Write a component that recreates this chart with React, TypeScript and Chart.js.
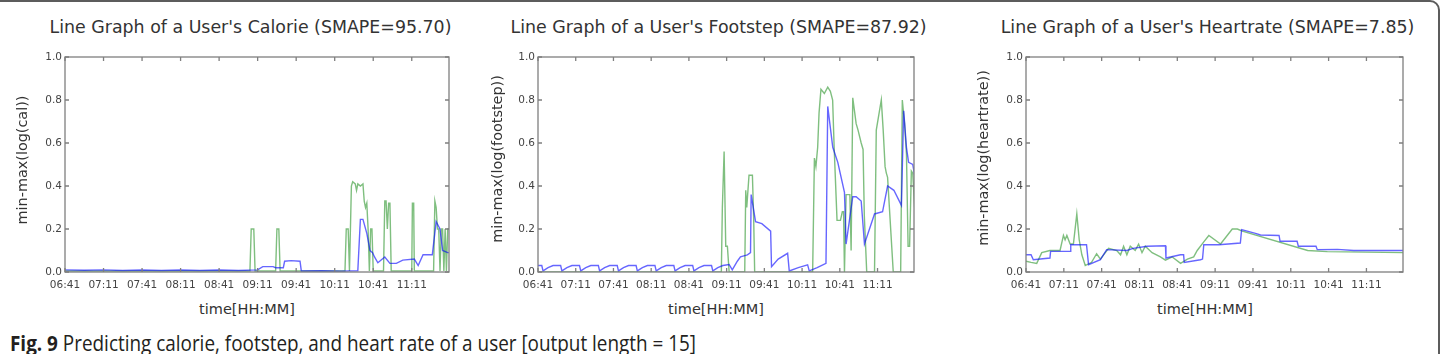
import React, { useEffect, useRef } from "react";
import { Chart, registerables } from "chart.js";

Chart.register(...registerables);

// ---------------- data ----------------
const timeLabels = ["06:41", "07:11", "07:41", "08:11", "08:41", "09:11", "09:41", "10:11", "10:41", "11:11"];
const yTickDecimals = 1;
const minutesPerTick = 30;
const lastMinute = 299;

const titles = [
  "Line Graph of a User's Calorie (SMAPE=95.70)",
  "Line Graph of a User's Footstep (SMAPE=87.92)",
  "Line Graph of a User's Heartrate (SMAPE=7.85)",
];
const yLabels = ["min-max(log(cal))", "min-max(log(footstep))", "min-max(log(heartrate))"];
const xLabel = "time[HH:MM]";

// [minute since 06:41, value]
const calorieActual: [number, number][] = [
  [0, 0.005], [144, 0.005], [145, 0.2], [147, 0.2], [148, 0.005], [164, 0.005], [165, 0.2], [166.5, 0.2],
  [167.5, 0.005], [218, 0.005], [219, 0.2], [220.5, 0.2], [221.5, 0.005], [223, 0.4], [224, 0.42], [226, 0.41],
  [227, 0.38], [228, 0.41], [230, 0.4], [232, 0.41], [233, 0.33], [234, 0.3], [235, 0.32], [236, 0.2],
  [237, 0.005], [238, 0.2], [239, 0.2], [240, 0.005], [248, 0.005], [249, 0.33], [250, 0.33], [251, 0.2],
  [252, 0.32], [253, 0.32], [254, 0.005], [270, 0.005], [270.5, 0.32], [271.5, 0.32], [272, 0.005], [287, 0.005],
  [288, 0.33], [289, 0.3], [290, 0.2], [291, 0.2], [292, 0.005], [293, 0.2], [294, 0.2], [295, 0.005],
  [296, 0.2], [297, 0.005], [298, 0.2], [299, 0.2],
];
const caloriePredicted: [number, number][] = [
  [0, 0.01], [15, 0.008], [30, 0.01], [45, 0.007], [60, 0.009], [75, 0.007], [90, 0.009], [105, 0.007],
  [120, 0.009], [135, 0.007], [150, 0.01], [154, 0.025], [162, 0.025], [164, 0.02], [170, 0.02], [171, 0.05],
  [176, 0.053], [183, 0.05], [184, 0.005], [200, 0.006], [215, 0.004], [228, 0.006], [230, 0.245], [232, 0.245],
  [235, 0.18], [237.5, 0.1], [239.5, 0.09], [241, 0.07], [243.6, 0.043], [249, 0.07], [253, 0.04], [258, 0.04],
  [263, 0.055], [272, 0.06], [275, 0.03], [278.8, 0.08], [286, 0.08], [289, 0.234], [292, 0.2], [294, 0.1],
  [298, 0.09], [299, 0.09],
];

const footstepActual: [number, number][] = [
  [0, 0], [145.8, 0], [146.6, 0.3], [148, 0.56], [149.3, 0.12], [150.6, 0.12], [152, 0], [164.4, 0],
  [165.2, 0.38], [166, 0.3], [167.8, 0.45], [170.5, 0.45], [171.5, 0.25], [172.3, 0], [218.4, 0], [219.8, 0.53],
  [221, 0.49], [222.4, 0.58], [223.5, 0.74], [225, 0.85], [227.7, 0.83], [230.4, 0.86], [232.5, 0.84], [234.3, 0.8],
  [235.5, 0.58], [237.8, 0.24], [240.5, 0.24], [242, 0.28], [243, 0.28], [243.7, 0], [245, 0.36], [248, 0.36],
  [249, 0.1], [250.3, 0.81], [253, 0.69], [254.5, 0.66], [257, 0.6], [258.5, 0.57], [259.5, 0.26], [261.4, 0],
  [267.6, 0], [269, 0.66], [273, 0.8], [274.5, 0.66], [276, 0.49], [277, 0.46], [278, 0.44], [282.5, 0],
  [288.4, 0], [289.7, 0.8], [291.5, 0.69], [293, 0.55], [294.3, 0.12], [295.5, 0.12], [296.9, 0.47], [298, 0.46],
  [299.5, 0.3],
];
const footstepPredicted: [number, number][] = [
  [0, 0.03], [3, 0.03], [4, 0.005], [8, 0.02], [12, 0.03],
  [18, 0.03], [19, 0.005], [23, 0.02], [27, 0.03],
  [33, 0.03], [34, 0.005], [38, 0.02], [42, 0.03],
  [48, 0.03], [49, 0.005], [53, 0.02], [57, 0.03],
  [63, 0.03], [64, 0.005], [68, 0.02], [72, 0.03],
  [78, 0.03], [79, 0.005], [83, 0.02], [87, 0.03],
  [93, 0.03], [94, 0.005], [98, 0.02], [102, 0.03],
  [108, 0.03], [109, 0.005], [113, 0.02], [117, 0.03],
  [123, 0.03], [124, 0.005], [128, 0.02], [132, 0.03],
  [138, 0.03], [139, 0.005], [143, 0.02], [147, 0.03],
  [152, 0.035], [154.5, 0.01], [158.5, 0.05], [161, 0.07], [166.5, 0.08], [169, 0.09], [169.5, 0.36], [173, 0.234],
  [178, 0.225], [185, 0.19], [185.7, 0.025], [191, 0.06], [198.5, 0.087], [199.8, 0.005], [207, 0.02], [214.4, 0.033],
  [215.7, 0.005], [222, 0.02], [229, 0.04], [230.4, 0.77], [234.4, 0.58], [238.4, 0.51], [243.7, 0.37], [245, 0.13],
  [250.3, 0.35], [253, 0.35], [257, 0.33], [259.6, 0.13], [263.6, 0.2], [267.6, 0.27], [274, 0.28], [278, 0.4],
  [283, 0.38], [289, 0.31], [290.8, 0.75], [293, 0.58], [294.7, 0.51], [298, 0.5], [299.5, 0.45],
];

const heartrateActual: [number, number][] = [
  [0, 0.05], [4, 0.045], [8.5, 0.04], [12.5, 0.09], [19, 0.1], [27, 0.1], [29.7, 0.17], [31, 0.15],
  [32.4, 0.17], [35, 0.13], [37.6, 0.13], [40.3, 0.27], [42.2, 0.15], [44.3, 0.08], [47, 0.03], [52, 0.045],
  [56, 0.085], [59, 0.06], [65.5, 0.11], [72, 0.1], [75, 0.08], [77.4, 0.12], [80, 0.08], [82.7, 0.12],
  [86.6, 0.1], [89.3, 0.13], [92, 0.09], [94.6, 0.12], [100, 0.09], [106.6, 0.07], [110.6, 0.055], [116, 0.07],
  [122.6, 0.04], [128, 0.06], [133, 0.07], [135.8, 0.1], [141, 0.14], [145, 0.17], [154.3, 0.13], [163.6, 0.2],
  [167.6, 0.2], [171.6, 0.19], [223.4, 0.1], [239, 0.095], [300, 0.09],
];
const heartratePredicted: [number, number][] = [
  [0, 0.08], [4, 0.08], [5.8, 0.057], [19, 0.065], [19.5, 0.096], [35, 0.096], [35.5, 0.127], [48, 0.127],
  [49.6, 0.034], [59, 0.057], [64, 0.104], [80, 0.1], [85, 0.11], [96, 0.12], [110.6, 0.122], [111, 0.065],
  [122.5, 0.08], [125, 0.08], [125.5, 0.045], [138.4, 0.057], [140, 0.06], [141, 0.127], [153, 0.127], [170, 0.135],
  [171, 0.197], [182, 0.18], [186, 0.172], [200.7, 0.17], [201.5, 0.143], [215, 0.143], [216, 0.12], [230, 0.12],
  [231, 0.104], [247, 0.105], [260, 0.1], [300, 0.1],
];

// ---------------- layout / style ----------------
const PLOT_TOP = 57;
const PLOT_BOTTOM = 272;
const PAD_LEFT = 50;
const PAD_TOP = 10;
const PAD_RIGHT = 10;
const PAD_BOTTOM = 25;

const panels = [
  { left: 65, right: 449, titleX: 250.5, xLabelX: 247, yLabelX: 22, yLabelY: 159.5, actual: calorieActual, predicted: caloriePredicted },
  { left: 538, right: 914, titleX: 718.5, xLabelX: 716, yLabelX: 497, yLabelY: 159, actual: footstepActual, predicted: footstepPredicted },
  { left: 1026, right: 1403, titleX: 1207.5, xLabelX: 1205, yLabelX: 983, yLabelY: 158, actual: heartrateActual, predicted: heartratePredicted },
];

const FONT = "'DejaVu Sans', sans-serif";
const TEXT_COLOR = "#333";
const TICK_COLOR = "#444";
const FRAME_COLOR = "#7f7f7f";
const BLUE = "rgba(0,0,255,0.6)";
const GREEN = "rgba(0,128,0,0.5)";

const framePlugin = {
  id: "mplFrame",
  afterDatasetsDraw(chart: any) {
    const { ctx, chartArea: a, scales } = chart;
    ctx.save();
    ctx.strokeStyle = FRAME_COLOR;
    ctx.lineWidth = 1.3;
    ctx.strokeRect(a.left, a.top, a.right - a.left, a.bottom - a.top);
    const len = 4;
    ctx.beginPath();
    scales.x.ticks.forEach((t: any) => {
      const px = scales.x.getPixelForValue(t.value);
      ctx.moveTo(px, a.bottom);
      ctx.lineTo(px, a.bottom - len);
      ctx.moveTo(px, a.top);
      ctx.lineTo(px, a.top + len);
    });
    scales.y.ticks.forEach((t: any) => {
      const py = scales.y.getPixelForValue(t.value);
      ctx.moveTo(a.left, py);
      ctx.lineTo(a.left + len, py);
      ctx.moveTo(a.right, py);
      ctx.lineTo(a.right - len, py);
    });
    ctx.stroke();
    ctx.restore();
  },
};

function Panel({ p }: { p: (typeof panels)[number] }) {
  const ref = useRef<HTMLCanvasElement | null>(null);
  const width = p.right - p.left + PAD_LEFT + PAD_RIGHT;
  const height = PLOT_BOTTOM - PLOT_TOP + PAD_TOP + PAD_BOTTOM;
  useEffect(() => {
    if (!ref.current) return;
    const chart = new Chart(ref.current, {
      type: "line",
      data: {
        datasets: [
          {
            data: p.predicted.map(([x, y]) => ({ x, y })),
            borderColor: BLUE,
            borderWidth: 1.4,
            pointRadius: 0,
            tension: 0,
            fill: false,
          },
          {
            data: p.actual.map(([x, y]) => ({ x, y })),
            borderColor: GREEN,
            borderWidth: 1.4,
            pointRadius: 0,
            tension: 0,
            fill: false,
          },
        ],
      },
      options: {
        responsive: false,
        animation: false,
        events: [],
        layout: { padding: { left: 0, top: PAD_TOP, right: PAD_RIGHT, bottom: 0 } },
        plugins: { legend: { display: false }, tooltip: { enabled: false }, title: { display: false } },
        scales: {
          x: {
            type: "linear",
            min: 0,
            max: lastMinute,
            grid: { display: false, drawTicks: false },
            border: { display: false },
            afterFit: (s: any) => {
              s.height = PAD_BOTTOM;
            },
            ticks: {
              stepSize: minutesPerTick,
              includeBounds: false,
              autoSkip: false,
              maxRotation: 0,
              padding: 6.5,
              color: TICK_COLOR,
              font: { family: FONT, size: 10.5 },
              callback: (v: any) => timeLabels[Math.round(Number(v) / minutesPerTick)] ?? "",
            },
          },
          y: {
            min: 0,
            max: 1,
            grid: { display: false, drawTicks: false },
            border: { display: false },
            afterFit: (s: any) => {
              s.width = PAD_LEFT;
            },
            ticks: {
              stepSize: 0.2,
              padding: 3,
              color: TICK_COLOR,
              font: { family: FONT, size: 10.5 },
              callback: (v: any) => Number(v).toFixed(yTickDecimals),
            },
          },
        },
      } as any,
      plugins: [framePlugin],
    });
    return () => chart.destroy();
  }, []);
  return (
    <canvas
      ref={ref}
      width={width}
      height={height}
      style={{ position: "absolute", left: p.left - PAD_LEFT, top: PLOT_TOP - PAD_TOP, width, height }}
    />
  );
}

export default function App() {
  return (
    <div
      style={{
        position: "fixed",
        left: 0,
        top: 0,
        width: 1448,
        height: 354,
        overflow: "hidden",
        background: "#fff",
      }}
    >
      <div
        style={{
          position: "absolute",
          left: -10,
          top: 0,
          width: 1450,
          height: 420,
          boxSizing: "border-box",
          border: "2px solid #5c5c5c",
          borderTopRightRadius: 10,
        }}
      />
      {panels.map((p, i) => (
        <React.Fragment key={i}>
          <Panel p={p} />
          <div
            style={{
              position: "absolute",
              left: p.titleX - 300,
              width: 600,
              top: 19,
              textAlign: "center",
              font: `17.4px/17px ${FONT}`,
              color: TEXT_COLOR,
              whiteSpace: "nowrap",
            }}
          >
            {titles[i]}
          </div>
          <div
            style={{
              position: "absolute",
              left: p.xLabelX - 150,
              width: 300,
              top: 301.5,
              textAlign: "center",
              font: `14.5px/15px ${FONT}`,
              color: TEXT_COLOR,
              whiteSpace: "nowrap",
            }}
          >
            {xLabel}
          </div>
          <div
            style={{
              position: "absolute",
              left: p.yLabelX - 150,
              top: p.yLabelY - 8,
              width: 300,
              height: 16,
              textAlign: "center",
              font: `14.4px/16px ${FONT}`,
              color: TEXT_COLOR,
              whiteSpace: "nowrap",
              transform: "rotate(-90deg)",
              transformOrigin: "50% 50%",
            }}
          >
            {yLabels[i]}
          </div>
        </React.Fragment>
      ))}
      <div
        style={{
          position: "absolute",
          left: 10,
          top: 333,
          font: "21px/21px 'Open Sans', sans-serif",
          color: "#231f20",
          whiteSpace: "nowrap",
          transform: "scaleX(0.9)",
          transformOrigin: "0 0",
        }}
      >
        <b>Fig. 9</b> Predicting calorie, footstep, and heart rate of a user [output length = 15]
      </div>
    </div>
  );
}
